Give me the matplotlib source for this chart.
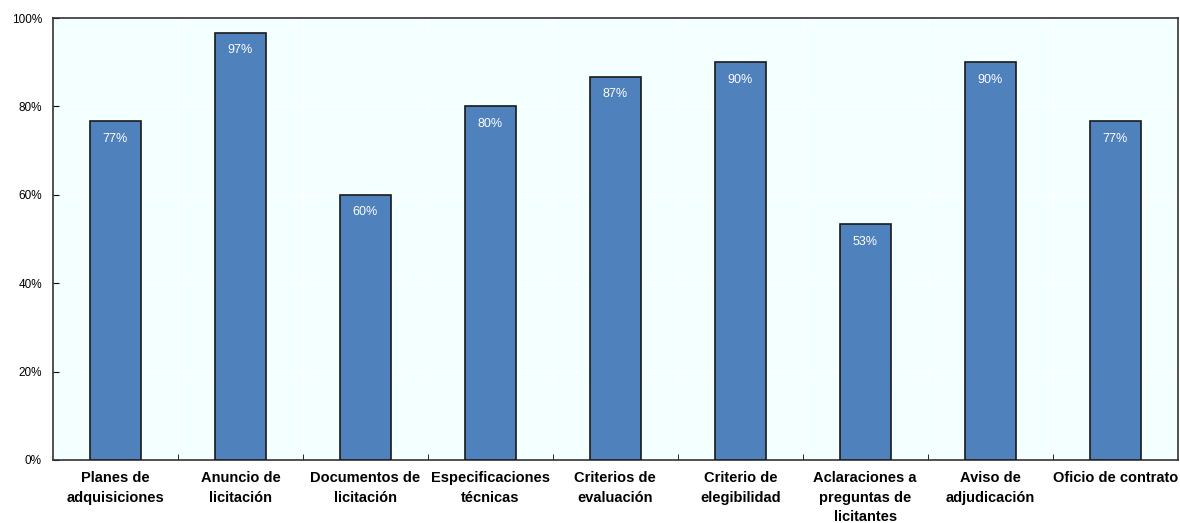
import matplotlib
matplotlib.use("Agg")
import matplotlib.pyplot as plt

categories = [
    "Planes de\nadquisiciones",
    "Anuncio de\nlicitación",
    "Documentos de\nlicitación",
    "Especificaciones\ntécnicas",
    "Criterios de\nevaluación",
    "Criterio de\nelegibilidad",
    "Aclaraciones a\npreguntas de\nlicitantes",
    "Aviso de\nadjudicación",
    "Oficio de contrato",
]
values = [76.7, 96.7, 60.0, 80.0, 86.7, 90.0, 53.3, 90.0, 76.7]
yticks = [0, 20, 40, 60, 80, 100]

fig = plt.figure(figsize=(11.8, 5.23), dpi=100)
ax = fig.add_axes([0.0449, 0.1205, 0.9531, 0.845])
ax.set_facecolor("#F4FFFF")

x = list(range(len(categories)))
ax.bar(x, values, width=0.41, color="#4F81BD", edgecolor="#1a1a1a",
       linewidth=1.2, zorder=3)
for xi, v in zip(x, values):
    ax.text(xi, v - 2.6, f"{round(v):d}%", ha="center", va="top",
            color="white", fontsize=9, family="Liberation Sans", zorder=4)

ax.set_xlim(-0.5, len(categories) - 0.5)
ax.set_ylim(0, 100)
ax.set_yticks(yticks)
ax.set_yticklabels([f"{t}%" for t in yticks], family="Liberation Sans", fontsize=8.5)
ax.set_xticks(x)
ax.set_xticklabels(categories, family="Liberation Sans", fontsize=10.5,
                   fontweight="bold", linespacing=1.5)
ax.tick_params(axis="x", length=0, pad=8)
ax.tick_params(axis="y", direction="in", length=4, pad=8)

# boundary ticks between categories
ax.set_xticks([i + 0.5 for i in range(len(categories) - 1)], minor=True)
ax.tick_params(axis="x", which="minor", direction="in", length=4)

ax.grid(axis="y", color="white", linewidth=1, zorder=0)
ax.grid(axis="x", which="minor", color="white", linewidth=1, zorder=0)
for s in ax.spines.values():
    s.set_color("#333333")
    s.set_linewidth(1.2)

fig.savefig("out.png", dpi=100)
